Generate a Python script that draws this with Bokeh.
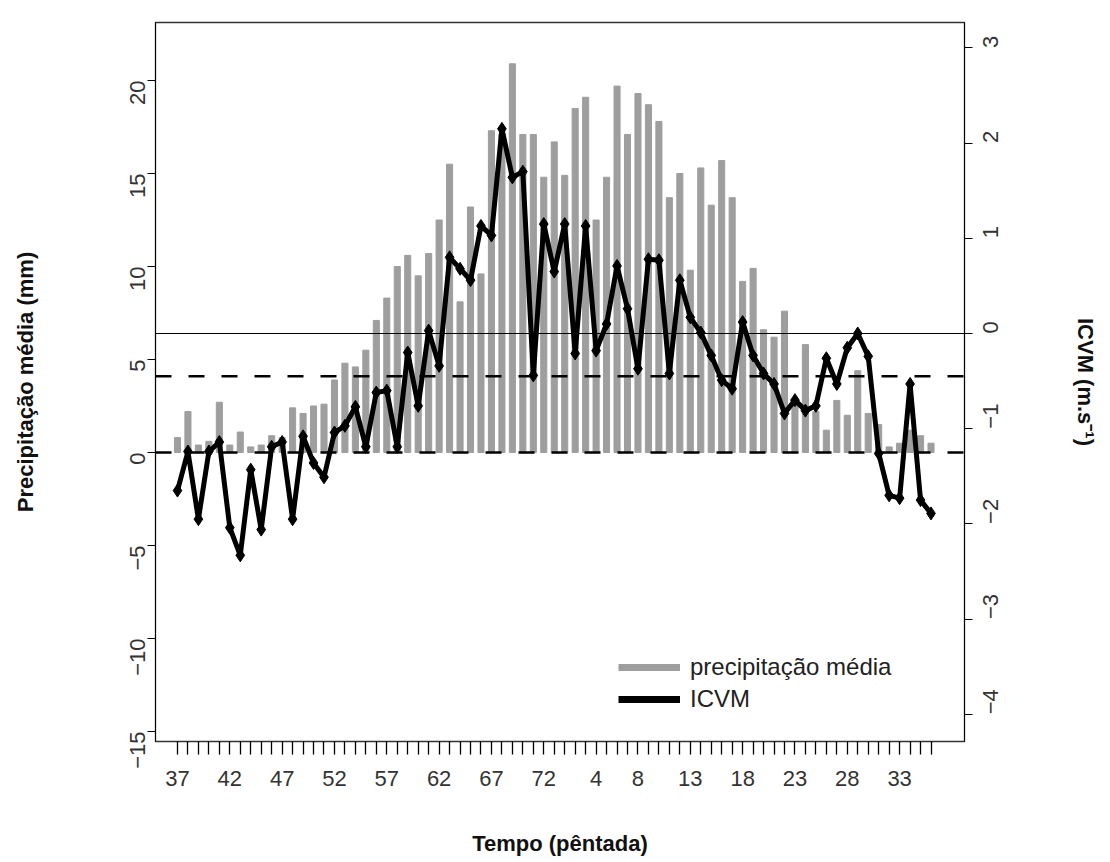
import math
from bokeh.plotting import figure
from bokeh.models import (Range1d, LinearAxis, FixedTicker, Span, Legend, LegendItem)
from bokeh.embed import file_html
from bokeh.resources import INLINE

# ---------------- data ----------------
pentadas = list(range(37, 74)) + list(range(1, 37))
label_pentadas = [37, 42, 47, 52, 57, 62, 67, 72, 4, 8, 13, 18, 23, 28, 33]

precip = [0.8, 2.2, 0.4, 0.6, 2.7, 0.4, 1.1, 0.3, 0.4, 0.9,
          0.8, 2.4, 2.1, 2.5, 2.6, 3.9, 4.8, 4.6, 5.5, 7.1,
          8.3, 10.0, 10.6, 9.5, 10.7, 12.5, 15.5, 8.1, 13.2, 9.6,
          17.3, 17.1, 20.9, 17.1, 17.1, 14.8, 16.7, 14.9, 18.5, 19.1,
          12.5, 14.8, 19.7, 17.1, 19.3, 18.7, 17.8, 13.7, 15.0, 9.8,
          15.3, 13.3, 15.7, 13.7, 9.2, 9.9, 6.6, 6.2, 7.6, 2.8,
          5.8, 2.2, 1.2, 2.8, 2.0, 4.4, 2.1, 1.5, 0.3, 0.5,
          1.2, 0.9, 0.5]

icvm = [-1.65, -1.24, -1.95, -1.24, -1.14, -2.04, -2.33, -1.43, -2.06, -1.19,
        -1.14, -1.95, -1.08, -1.36, -1.51, -1.04, -0.97, -0.77, -1.19, -0.62,
        -0.60, -1.19, -0.20, -0.76, 0.03, -0.34, 0.80, 0.68, 0.56, 1.13,
        1.03, 2.15, 1.64, 1.70, -0.44, 1.15, 0.65, 1.15, -0.21, 1.13,
        -0.18, 0.10, 0.71, 0.26, -0.37, 0.78, 0.77, -0.42, 0.56, 0.17,
        0.01, -0.23, -0.49, -0.58, 0.12, -0.23, -0.42, -0.53, -0.84, -0.70,
        -0.81, -0.76, -0.26, -0.53, -0.15, 0.00, -0.24, -1.26, -1.70, -1.73,
        -0.53, -1.75, -1.89]

left_ticks = [-15, -10, -5, 0, 5, 10, 15, 20]
right_ticks = [-4, -3, -2, -1, 0, 1, 2, 3]
precip_ref_lines = [0.0, 4.1]   # dashed reference lines (mm)
icvm_ref_line = 0.0             # solid reference line (m/s)

idx = list(range(len(pentadas)))

FONT = "Liberation Sans"
TXT = "#333333"

p = figure(width=1100, height=860, output_backend="svg", toolbar_location=None,
           x_range=Range1d(-2.1, 75.2), y_range=Range1d(-15.54, 23.12),
           min_border_left=155, min_border_right=136, min_border_top=22,
           min_border_bottom=119)
p.extra_y_ranges = {"icvm": Range1d(-4.286, 3.267)}
p.grid.visible = False
p.outline_line_color = "#333333"
p.outline_line_width = 1.3
p.background_fill_color = "white"
p.border_fill_color = "white"

# bars
p.vbar(x=idx, top=precip, bottom=0, width=0.58, color="#9e9e9e")

# reference lines
for yv in precip_ref_lines:
    p.add_layout(Span(location=yv, dimension="width", line_color="black",
                      line_width=2.6, line_dash="16 17"))
p.add_layout(Span(location=icvm_ref_line, dimension="width", y_range_name="icvm",
                  line_color="black", line_width=1.2))

# ICVM line
p.line(idx, icvm, y_range_name="icvm", line_color="black", line_width=5)
p.scatter(idx, icvm, y_range_name="icvm", marker="diamond", size=13,
          fill_color="black", line_color="black")

# legend dummies
lg1 = p.line([0], [100], line_color="#9e9e9e", line_width=7)
lg2 = p.line([0], [100], line_color="black", line_width=7)
legend = Legend(items=[LegendItem(label="precipitação média", renderers=[lg1]),
                       LegendItem(label="ICVM", renderers=[lg2])],
                location=(463, 28), border_line_color=None,
                background_fill_alpha=0, padding=0, spacing=4,
                glyph_width=62, glyph_height=24, label_height=24,
                label_text_font=FONT, label_text_font_size="24px",
                label_text_color="#222222", label_standoff=10, margin=0)
p.add_layout(legend, "center")

# x axis
xa = p.xaxis[0]
xa.ticker = FixedTicker(ticks=idx)
overrides = {i: "" for i in idx}
for i, pe in enumerate(pentadas):
    if pe in label_pentadas and not (pe == 4 and i < 37) and not (pe == 8 and i < 37) \
            and not (pe in (37, 42, 47, 52, 57, 62, 67, 72) and i >= 37):
        overrides[i] = str(pe)
xa.major_label_overrides = overrides
xa.minor_tick_line_color = None
xa.major_tick_in = 0
xa.major_tick_out = 13
xa.major_tick_line_width = 1.3
xa.axis_line_color = "#333333"
xa.major_label_text_font = FONT
xa.major_label_text_font_size = "22px"
xa.major_label_text_color = TXT
xa.major_label_standoff = 16
xa.axis_label = "Tempo (pêntada)"
xa.axis_label_text_font = FONT
xa.axis_label_text_font_style = "bold"
xa.axis_label_text_font_size = "22px"
xa.axis_label_text_color = "#111111"
xa.axis_label_standoff = 42

# left axis
ya = p.yaxis[0]
ya.ticker = FixedTicker(ticks=left_ticks)
ya.minor_tick_line_color = None
ya.major_tick_in = 0
ya.major_tick_out = 8
ya.major_label_orientation = math.pi / 2
ya.major_label_text_font = FONT
ya.major_label_text_font_size = "22px"
ya.major_label_text_color = TXT
ya.major_label_standoff = 10
ya.axis_label = "Precipitação média (mm)"
ya.axis_label_text_font = FONT
ya.axis_label_text_font_style = "bold"
ya.axis_label_text_font_size = "22px"
ya.axis_label_text_color = "#111111"
ya.axis_label_standoff = 82

# right axis
ra = LinearAxis(y_range_name="icvm", ticker=FixedTicker(ticks=right_ticks))
ra.minor_tick_line_color = None
ra.major_tick_in = 0
ra.major_tick_out = 8
ra.major_label_orientation = math.pi / 2
ra.major_label_text_font = FONT
ra.major_label_text_font_size = "22px"
ra.major_label_text_color = TXT
ra.major_label_standoff = 18
ra.axis_label = "ICVM (m.s⁻¹)"
ra.axis_label_text_font = FONT
ra.axis_label_text_font_style = "bold"
ra.axis_label_text_font_size = "22px"
ra.axis_label_text_color = "#111111"
ra.axis_label_standoff = 64
p.add_layout(ra, "right")

open("out.html", "w").write(file_html(p, INLINE))
